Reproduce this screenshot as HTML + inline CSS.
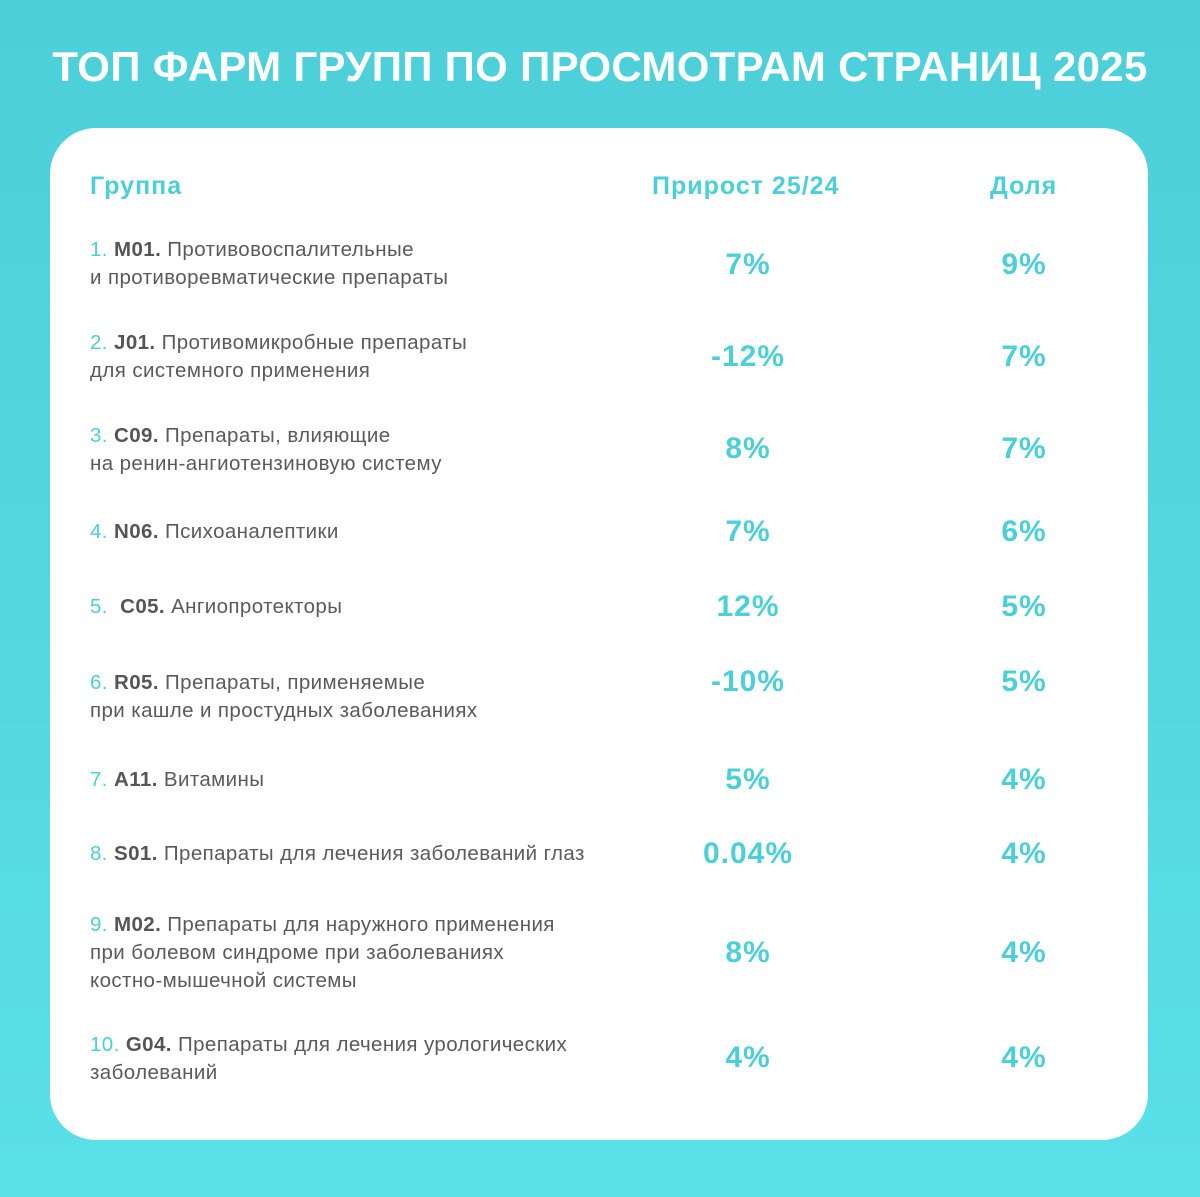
<!DOCTYPE html>
<html><head><meta charset="utf-8"><style>
body{margin:0;width:1200px;height:1197px;background:linear-gradient(#4ccfd8,#5ae0e8);font-family:"Liberation Sans",sans-serif;position:relative;overflow:hidden}
.t{position:absolute;left:0;width:1200px;top:43px;text-align:center;color:#fff;font-weight:bold;font-size:42px;letter-spacing:0.3px}
.card{position:absolute;left:50px;top:128px;width:1098px;height:1012px;background:#fff;border-radius:46px}
.h{position:absolute;color:#4ccfd7;font-weight:bold;font-size:25px;line-height:28px;letter-spacing:1px}
.l{position:absolute;left:90px;color:#5a5a5a;font-size:20.5px;line-height:28px;white-space:nowrap;letter-spacing:0.4px}
.l b{color:#555}.n{color:#4ccfd7}
.v{position:absolute;width:200px;text-align:center;color:#4ccfd7;font-weight:bold;font-size:30px;line-height:34px;letter-spacing:1px}
.a{left:648px}.s{left:924px}
</style></head><body>
<div class="t">ТОП ФАРМ ГРУПП ПО ПРОСМОТРАМ СТРАНИЦ 2025</div>
<div class="card"></div>
<div class="h" style="left:90px;top:172px">Группа</div>
<div class="h" style="left:652px;top:172px">Прирост 25/24</div>
<div class="h" style="left:990px;top:172px">Доля</div>

<div class="l" style="top:236px"><span class="n">1.</span> <b>M01.</b> Противовоспалительные<br>и противоревматические препараты</div>
<div class="v a" style="top:248px">7%</div><div class="v s" style="top:248px">9%</div>

<div class="l" style="top:329px"><span class="n">2.</span> <b>J01.</b> Противомикробные препараты<br>для системного применения</div>
<div class="v a" style="top:340px">-12%</div><div class="v s" style="top:340px">7%</div>

<div class="l" style="top:422px"><span class="n">3.</span> <b>C09.</b> Препараты, влияющие<br>на ренин-ангиотензиновую систему</div>
<div class="v a" style="top:432px">8%</div><div class="v s" style="top:432px">7%</div>

<div class="l" style="top:518px"><span class="n">4.</span> <b>N06.</b> Психоаналептики</div>
<div class="v a" style="top:515px">7%</div><div class="v s" style="top:515px">6%</div>

<div class="l" style="top:593px"><span class="n">5.</span> &nbsp;<b>C05.</b> Ангиопротекторы</div>
<div class="v a" style="top:590px">12%</div><div class="v s" style="top:590px">5%</div>

<div class="l" style="top:669px"><span class="n">6.</span> <b>R05.</b> Препараты, применяемые<br>при кашле и простудных заболеваниях</div>
<div class="v a" style="top:665px">-10%</div><div class="v s" style="top:665px">5%</div>

<div class="l" style="top:766px"><span class="n">7.</span> <b>A11.</b> Витамины</div>
<div class="v a" style="top:763px">5%</div><div class="v s" style="top:763px">4%</div>

<div class="l" style="top:840px"><span class="n">8.</span> <b>S01.</b> Препараты для лечения заболеваний глаз</div>
<div class="v a" style="top:837px">0.04%</div><div class="v s" style="top:837px">4%</div>

<div class="l" style="top:911px"><span class="n">9.</span> <b>M02.</b> Препараты для наружного применения<br>при болевом синдроме при заболеваниях<br>костно-мышечной системы</div>
<div class="v a" style="top:936px">8%</div><div class="v s" style="top:936px">4%</div>

<div class="l" style="top:1031px"><span class="n">10.</span> <b>G04.</b> Препараты для лечения урологических<br>заболеваний</div>
<div class="v a" style="top:1041px">4%</div><div class="v s" style="top:1041px">4%</div>
</body></html>
